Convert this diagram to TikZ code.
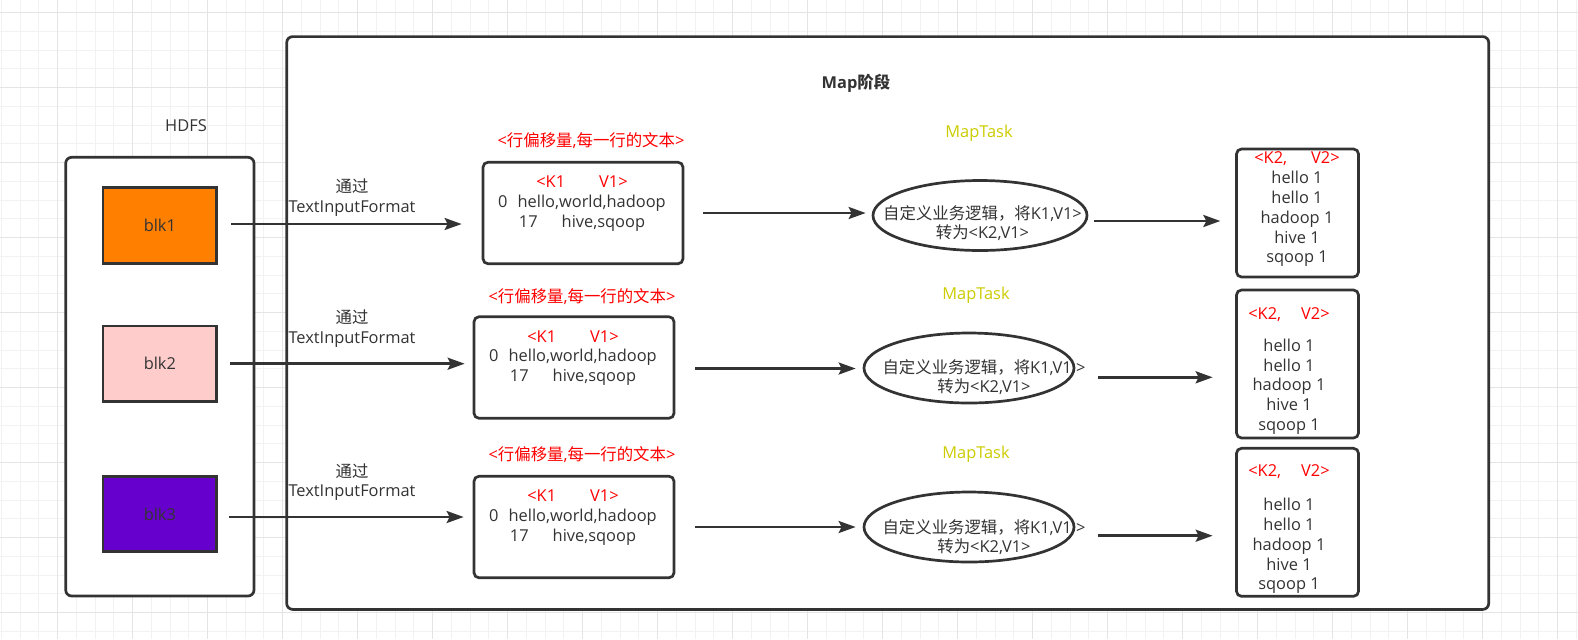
\documentclass[tikz,border=0pt]{standalone}
\usepackage{fontspec}
\setmainfont{Open Sans}
\newfontfamily\cjk{Noto Sans CJK SC}
\usetikzlibrary{arrows.meta,positioning,shapes.geometric}

\definecolor{ink}{HTML}{333333}
\definecolor{keyred}{HTML}{FF0000}
\definecolor{taskyellow}{HTML}{CCCC00}
\definecolor{blkorange}{HTML}{FF8000}
\definecolor{blkpink}{HTML}{FFCCCC}
\definecolor{blkpurple}{HTML}{6600CC}
\definecolor{gridminor}{HTML}{F2F2F2}
\definecolor{gridmajor}{HTML}{E4E4E4}

\newcommand{\fs}{\fontsize{8.2}{9.9}\selectfont}
\newcommand{\zh}[1]{{\cjk #1}}
\tikzstyle{panel}=[draw=ink,line width=1.35pt,fill=white,rounded corners=3pt]
\tikzstyle{blkbox}=[draw=ink,line width=1.35pt,minimum width=56.85pt,minimum height=37.75pt]
\tikzstyle{kvbox}=[draw=ink,line width=1.35pt,fill=white,rounded corners=2.5pt,minimum width=100pt,minimum height=50.75pt]
\tikzstyle{outbox}=[kvbox,minimum width=61pt]
\tikzstyle{task}=[draw=ink,line width=1.35pt,ellipse,minimum width=105pt,minimum height=35pt,inner sep=0pt]
\tikzstyle{txt}=[text=ink,align=center,inner sep=0pt,font=\fs]
\tikzstyle{flow}=[draw=ink,line width=1.3pt,-{Stealth[length=8.5pt,width=6pt,inset=1.5pt]}]

\begin{document}
\begin{tikzpicture}[x=0.5pt,y=-0.5pt]
    \useasboundingbox (0,0) rectangle (1578,639);
    \fill[white] (0,0) rectangle (1578,639);
    % background grid
    \foreach \i in {0,...,84}
        \draw[gridminor,line width=0.5pt] (1.25+18.75*\i,0) -- ++(0,639);
    \foreach \j in {0,...,34}
        \draw[gridminor,line width=0.5pt] (0,-6.05+18.75*\j) -- ++(1578,0);
    \foreach \i in {0,...,20}
        \draw[gridmajor,line width=0.5pt] (57.5+75*\i,0) -- ++(0,639);
    \foreach \j in {0,...,8}
        \draw[gridmajor,line width=0.5pt] (0,12.7+75*\j) -- ++(1578,0);

    % the two frames
    \node[panel,minimum width=94.15pt,minimum height=219.35pt] (hdfs) at (159.85,376.65) {};
    \node[panel,minimum width=601pt,minimum height=286.4pt] (mapstage) at (887.7,323) {};
    \node[txt] (hdfslab) at (186,125.7) {HDFS};
    \node[txt,font=\fs\bfseries] (maplab) at (856,83.5) {Map\zh{阶段}};

    % blocks in HDFS
    \foreach \name/\y/\col in {blk1/225.5/blkorange, blk2/363.7/blkpink, blk3/513.9/blkpurple}
        \node[blkbox,txt,fill=\col] (\name) at (159.85,\y) {\name};
    \foreach \name/\y in {via1/197.4, via2/328.5, via3/482}
        \node[txt] (\name) at (352,\y) {\zh{通过}\\TextInputFormat};

    % <K1,V1> boxes
    \foreach \name/\x/\y/\ly in {in1/583/213/141, in2/574/367.5/297, in3/574/527/455}{
        \node[kvbox] (\name) at (\x,\y) {};
        \node[txt] (\name-t) at (\x-1,\y-9.5) {\textcolor{keyred}{<K1\hspace{17pt}V1>}\\0\hspace{5pt}hello,world,hadoop\\17\hspace{12pt}hive,sqoop};
        \node[txt,text=keyred] (\name-lab) at (\x+8,\ly) {<\zh{行偏移量},\zh{每一行的文本}>};
    }

    % MapTask ellipses
    \node[task,minimum width=107pt] (map1) at (980,215.5) {};
    \node[task] (map2) at (969,368) {};
    \node[task] (map3) at (969,527) {};
    \node[txt] (map1-t) at (982.5,223) {\zh{自定义业务逻辑，将}K1,V1>\\\zh{转为}<K2,V1>};
    \node[txt] (map2-t) at (984,377) {\zh{自定义业务逻辑，将}K1,V1 >\\\zh{转为}<K2,V1>};
    \node[txt] (map3-t) at (984,537) {\zh{自定义业务逻辑，将}K1,V1 >\\\zh{转为}<K2,V1>};
    \foreach \name/\x/\y in {task1/979/133, task2/976/295, task3/976/454.3}
        \node[txt,text=taskyellow] (\name) at (\x,\y) {MapTask};

    % <K2,V2> boxes
    \node[outbox,minimum height=64pt] (out1) at (1297.5,213) {};
    \node[outbox,minimum height=74pt] (out2) at (1297.5,364) {};
    \node[outbox,minimum height=74pt] (out3) at (1297.5,522.3) {};
    \node[txt] (out1-t) at (1297,209.5) {\textcolor{keyred}{<K2,\hspace{12pt}V2>}\\hello 1\\hello 1\\hadoop 1\\hive 1\\sqoop 1};
    \node[txt] (out2-t) at (1289,371) {\textcolor{keyred}{<K2,\hspace{10pt}V2>}\\[6pt]hello 1\\hello 1\\hadoop 1\\hive 1\\sqoop 1};
    \node[txt] (out3-t) at (1289,529.5) {\textcolor{keyred}{<K2,\hspace{10pt}V2>}\\[7pt]hello 1\\hello 1\\hadoop 1\\hive 1\\sqoop 1};

    % connectors
    \foreach \src/\dst/\dy/\sa/\sb in {blk1/in1/0.75/6.65/10, blk2/in2/0/6.2/4, blk3/in3/-1.55/5.65/4.5,
            in1/map1/0/9.5/3, in2/map2/-0.5/10/3.5, in3/map3/0/10/3.5,
            map1/out1/-2.75/3/7.4, map2/out2/-4.65/11.5/11.25, map3/out3/-4.35/11.5/11.25}
        \draw[flow,shorten <=\sa pt] ([yshift=\dy pt]\src.east) -- ([yshift=\dy pt,xshift=-\sb pt]\src.east -| \dst.west);
\end{tikzpicture}
\end{document}
